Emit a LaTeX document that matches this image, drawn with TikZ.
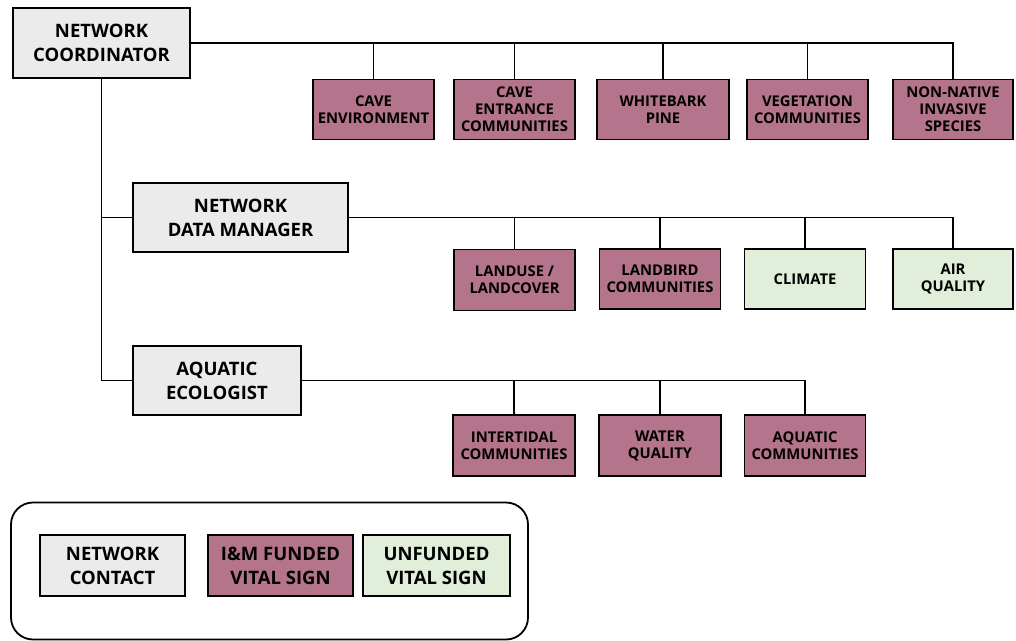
\documentclass[tikz,border=0pt]{standalone}
\usepackage{fontspec}
\setmainfont{Open Sans}
\definecolor{contactfill}{RGB}{235,235,235}
\definecolor{fundfill}{RGB}{180,116,139}
\definecolor{unfundfill}{RGB}{225,238,217}
\tikzset{
  base/.style={draw=black, line width=1.8pt, align=center, inner sep=0pt, font=\bfseries\fontsize{14.8}{17}\selectfont, text=black},
  contact/.style={base, fill=contactfill, font=\bfseries\fontsize{18.5}{24}\selectfont},
  funded/.style={base, fill=fundfill},
  unfunded/.style={base, fill=unfundfill},
  link/.style={draw=black, line width=1.8pt},
}
\begin{document}
\begin{tikzpicture}[x=1pt,y=-1pt]
\useasboundingbox (0,0) rectangle (1016,640);
% network contacts
\node[contact, minimum width=177pt, minimum height=70pt] (nc) at (101.5,43) {NETWORK\\COORDINATOR};
\node[contact, minimum width=215pt, minimum height=69pt] (dm) at (240.5,217.5) {NETWORK\\DATA MANAGER};
\node[contact, minimum width=168pt, minimum height=69pt] (ae) at (217,380.5) {AQUATIC\\ECOLOGIST};
% row 1
\node[funded, minimum width=121pt, minimum height=60pt] (cenv) at (373.5,109.5) {CAVE\\ENVIRONMENT};
\node[funded, minimum width=121pt, minimum height=60pt] (cent) at (514.5,109.5) {CAVE\\ENTRANCE\\COMMUNITIES};
\node[funded, minimum width=132pt, minimum height=60pt] (wbp) at (663,109.5) {WHITEBARK\\PINE};
\node[funded, minimum width=121pt, minimum height=60pt] (veg) at (807.5,109.5) {VEGETATION\\COMMUNITIES};
\node[funded, minimum width=120pt, minimum height=60pt] (nni) at (953,109.5) {NON-NATIVE\\INVASIVE\\SPECIES};
% row 2
\node[funded, minimum width=121pt, minimum height=61pt] (land) at (514.5,280) {LANDUSE /\\LANDCOVER};
\node[funded, minimum width=121pt, minimum height=60pt] (bird) at (660,279) {LANDBIRD\\COMMUNITIES};
\node[unfunded, minimum width=121pt, minimum height=60pt] (clim) at (805,279) {CLIMATE};
\node[unfunded, minimum width=120pt, minimum height=60pt] (air) at (953,279) {AIR\\QUALITY};
% row 3
\node[funded, minimum width=122pt, minimum height=61pt] (inter) at (514,445.5) {INTERTIDAL\\COMMUNITIES};
\node[funded, minimum width=122pt, minimum height=61pt] (water) at (660,445.5) {WATER\\QUALITY};
\node[funded, minimum width=121pt, minimum height=61pt] (aqua) at (805,445.5) {AQUATIC\\COMMUNITIES};
% connectors
\draw[link] (nc.east) -| (nni.north);
\foreach \n in {cenv,cent,wbp,veg} \draw[link] (\n.north) -- (\n.north |- nc.east);
\draw[link] (nc.south) |- (ae.west);
\draw[link] (nc.south |- dm.west) -- (dm.west);
\draw[link] (dm.east) -| (air.north);
\foreach \n in {land,bird,clim} \draw[link] (\n.north) -- (\n.north |- dm.east);
\draw[link] (ae.east) -| (aqua.north);
\foreach \n in {inter,water} \draw[link] (\n.north) -- (\n.north |- ae.east);
% legend
\node[draw=black, line width=1.8pt, rounded corners=22pt, minimum width=517pt, minimum height=137pt, inner sep=0pt] (legend) at (269.5,571) {};
\node[contact, minimum width=145pt, minimum height=61pt] (lc) at (112.5,565.5) {NETWORK\\CONTACT};
\node[funded, font=\bfseries\fontsize{18.5}{24}\selectfont, minimum width=145pt, minimum height=61pt] (lf) at (280.5,565.5) {I\&M FUNDED\\VITAL SIGN};
\node[unfunded, font=\bfseries\fontsize{18.5}{24}\selectfont, minimum width=147pt, minimum height=61pt] (lu) at (436.5,565.5) {UNFUNDED\\VITAL SIGN};
\end{tikzpicture}
\end{document}
